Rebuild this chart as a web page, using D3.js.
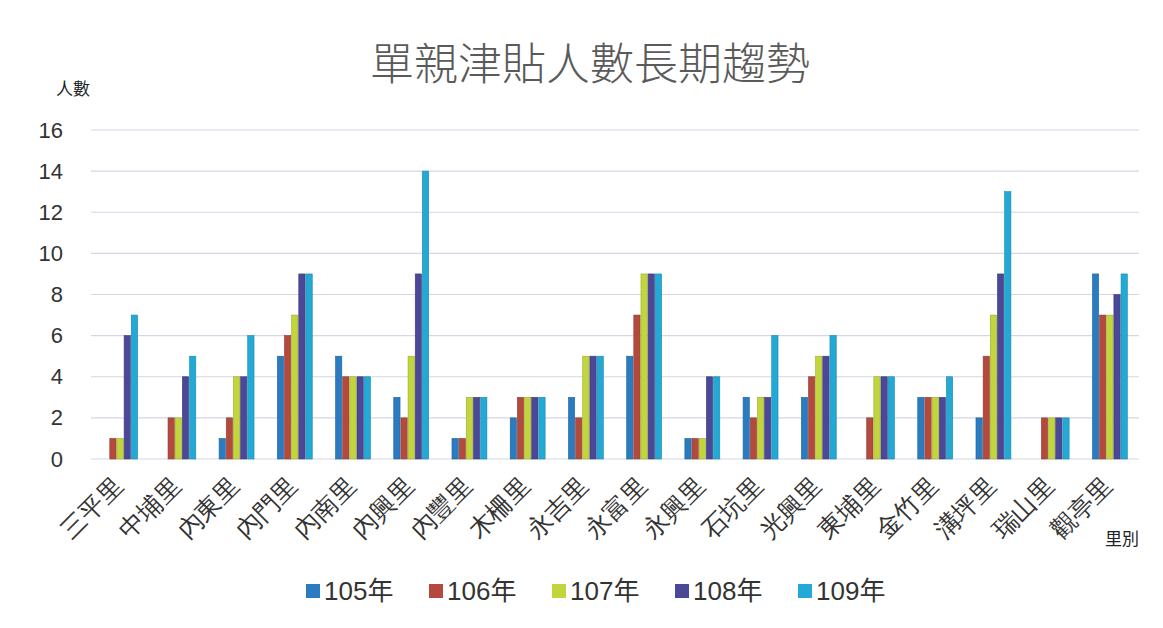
<!DOCTYPE html>
<html>
<head>
<meta charset="utf-8">
<script src="https://cdn.jsdelivr.net/npm/d3@7"></script>
<style>
  body { margin: 0; background: #fff; }
  svg { font-family: "Noto Sans CJK TC", "Noto Sans", sans-serif; }
</style>
</head>
<body>
<svg></svg>
<script>
const villages = ['三平里', '中埔里', '內東里', '內門里', '內南里', '內興里', '內豐里', '木柵里', '永吉里',
                  '永富里', '永興里', '石坑里', '光興里', '東埔里', '金竹里', '溝坪里', '瑞山里', '觀亭里'];
const years = ['105年', '106年', '107年', '108年', '109年'];
const y105 = [0, 0, 1, 5, 5, 3, 1, 2, 3, 5, 1, 3, 3, 0, 3, 2, 0, 9];
const y106 = [1, 2, 2, 6, 4, 2, 1, 3, 2, 7, 1, 2, 4, 2, 3, 5, 2, 7];
const y107 = [1, 2, 4, 7, 4, 5, 3, 3, 5, 9, 1, 3, 5, 4, 3, 7, 2, 7];
const y108 = [6, 4, 4, 9, 4, 9, 3, 3, 5, 9, 4, 3, 5, 4, 3, 9, 2, 8];
const y109 = [7, 5, 6, 9, 4, 14, 3, 3, 5, 9, 4, 6, 6, 4, 4, 13, 2, 9];
const yTicks = [0, 2, 4, 6, 8, 10, 12, 14, 16];
const colors = ['#2b7bc0', '#b44a3e', '#c2d53c', '#4a4897', '#22a9d6'];

const series = [y105, y106, y107, y108, y109];
const W = 1163, H = 628;
const margin = { top: 130, right: 24, bottom: 169, left: 91 };
const w = W - margin.left - margin.right;
const h = H - margin.top - margin.bottom;

const svg = d3.select('svg').attr('width', W).attr('height', H);
const g = svg.append('g').attr('transform', `translate(${margin.left}, ${margin.top})`);

const x0 = d3.scaleBand().domain(villages).range([0, w]).paddingInner(0.4).paddingOuter(0.2);
const x1 = d3.scaleBand().domain(years).range([0, x0.bandwidth()]).paddingInner(0.12);
const y = d3.scaleLinear().domain([0, 16]).range([h, 0]);

// grid
g.selectAll('line.grid')
  .data(yTicks)
  .enter()
  .append('line')
  .attr('class', 'grid')
  .attr('x1', 0)
  .attr('x2', w)
  .attr('y1', d => y(d))
  .attr('y2', d => y(d))
  .style('stroke', '#d6d6e6')
  .style('stroke-width', 1.2);

// y axis labels
const yAxis = d3.axisLeft(y).tickValues(yTicks).tickSize(0).tickPadding(28);
g.append('g')
  .call(yAxis)
  .call(s => s.select('.domain').remove())
  .selectAll('text')
  .style('font-size', '22px')
  .style('font-family', 'Liberation Sans, Arial, sans-serif')
  .style('fill', '#333');

// bars
const groups = g.selectAll('g.grp')
  .data(villages)
  .enter()
  .append('g')
  .attr('class', 'grp')
  .attr('transform', d => `translate(${x0(d)}, 0)`);

groups.selectAll('rect')
  .data((d, i) => years.map((yr, k) => ({ yr: yr, v: series[k][i], k: k })))
  .enter()
  .append('rect')
  .attr('x', d => x1(d.yr))
  .attr('y', d => y(d.v))
  .attr('width', x1.bandwidth())
  .attr('height', d => h - y(d.v))
  .style('fill', d => colors[d.k])
  .style('stroke', d => d3.color(colors[d.k]).darker(0.6))
  .style('stroke-width', 0.6);

// x axis labels
const xAxis = d3.axisBottom(x0).tickSize(0);
g.append('g')
  .attr('transform', `translate(0, ${h})`)
  .call(xAxis)
  .call(s => s.select('.domain').remove())
  .selectAll('text')
  .style('font-size', '25px')
  .style('fill', '#333')
  .style('text-anchor', 'end')
  .attr('y', 0)
  .attr('dy', '0.35em')
  .attr('transform', 'translate(-2, 22) rotate(-45)');

// title
svg.append('text')
  .attr('x', 590)
  .attr('y', 80)
  .style('text-anchor', 'middle')
  .style('font-size', '44px')
  .style('font-weight', 300)
  .style('fill', '#5a5a5a')
  .text('單親津貼人數長期趨勢');

// axis titles
svg.append('text')
  .attr('x', 56)
  .attr('y', 95)
  .style('font-size', '17px')
  .style('fill', '#222')
  .text('人數');

svg.append('text')
  .attr('x', 1105)
  .attr('y', 545)
  .style('font-size', '17px')
  .style('fill', '#222')
  .text('里別');

// legend
const legend = svg.append('g').attr('transform', 'translate(306, 591)');
const item = legend.selectAll('g')
  .data(years)
  .enter()
  .append('g')
  .attr('transform', (d, i) => `translate(${i * 123}, 0)`);
item.append('rect')
  .attr('x', 0)
  .attr('y', -7)
  .attr('width', 14)
  .attr('height', 14)
  .style('fill', (d, i) => colors[i]);
item.append('text')
  .attr('x', 18)
  .attr('y', 9)
  .style('font-size', '26px')
  .style('font-family', 'Liberation Sans, "Noto Sans CJK TC", sans-serif')
  .style('fill', '#333')
  .text(d => d);
</script>
</body>
</html>
